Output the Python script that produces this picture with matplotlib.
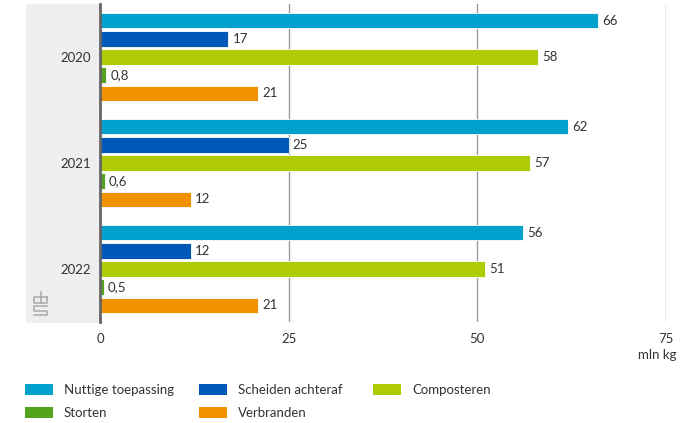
import numpy as np
import matplotlib.pyplot as plt
from matplotlib.patches import FancyBboxPatch, Rectangle
from matplotlib.lines import Line2D

plt.rcParams['font.family'] = ['Lato', 'DejaVu Sans']

years = ['2020', '2021', '2022']
series = ['Nuttige toepassing', 'Scheiden achteraf', 'Composteren', 'Storten', 'Verbranden']
colors = ['#00a1cd', '#0058b8', '#afcb05', '#53a31d', '#f39200']

nuttige = [66, 62, 56]
scheiden = [17, 25, 12]
composteren = [58, 57, 51]
storten = [0.8, 0.6, 0.5]
verbranden = [21, 12, 21]
values = [nuttige, scheiden, composteren, storten, verbranden]

xticks = [0, 25, 50, 75]
unit = 'mln kg'

W, H = 696, 423
fig = plt.figure(figsize=(W / 100, H / 100), dpi=100)
ax = fig.add_axes([100 / W, (H - 322) / H, (666 - 100) / W, (322 - 4) / H])

# grey side panel with year labels (inches -> isotropic corners)
panel = FancyBboxPatch((0.26, (H - 323) / 100), 0.80, (323 - 4) / 100,
                       boxstyle='round,pad=0,rounding_size=0.04',
                       transform=fig.dpi_scale_trans, facecolor='#eeeeee',
                       edgecolor='none', zorder=-1)
fig.patches.append(panel)

def fmt(v):
    s = f'{v:g}'
    return s.replace('.', ',')

y = np.arange(len(years))
step = 0.17
h = 0.142
for i, (name, vals, c) in enumerate(zip(series, values, colors)):
    bars = ax.barh(y + (i - 2) * step, vals, height=h, color=c,
                   edgecolor='white', linewidth=0.6, zorder=3)
    ax.bar_label(bars, labels=[fmt(v) for v in vals], padding=3,
                 fontsize=9.5, color='#333333')

ax.set_xlim(0, 75)
ax.set_ylim(2.5, -0.5)
ax.set_yticks(y)
ax.set_yticklabels(years)
ax.set_xticks(xticks)
ax.tick_params(length=0, labelsize=9.5, labelcolor='#333333')
ax.tick_params(axis='x', pad=8)
ax.tick_params(axis='y', pad=6.5)
for s in ['top', 'right', 'bottom']:
    ax.spines[s].set_visible(False)
ax.spines['left'].set_color('#666666')
ax.spines['left'].set_linewidth(2)
ax.spines['left'].set_zorder(5)
ax.grid(axis='x', color='#999999', linewidth=1, zorder=1)
ax.grid(axis='y', visible=False)
ax.set_axisbelow(True)

fig.text(677 / W, 1 - 355 / H, unit, ha='right', va='center',
         fontsize=9.5, color='#333333')

# rough CBS logo in the panel corner
lc = '#aaaaaa'
logo = [
    [(40.5, 292), (40.5, 297)],
    [(47, 297), (34, 297), (34, 303), (47, 303), (47, 297)],
    [(40.5, 297), (40.5, 303)],
    [(47, 306), (34, 306), (34, 310.5), (47, 310.5), (47, 314.5), (34, 314.5)],
]
for pts in logo:
    xs = [p[0] / 100 for p in pts]
    ys = [(H - p[1]) / 100 for p in pts]
    fig.add_artist(Line2D(xs, ys, transform=fig.dpi_scale_trans,
                          color=lc, linewidth=1.1))

# legend, laid out row by row
cols = [25, 199, 373]
rows = [389.5, 412.5]
for k, (name, c) in enumerate(zip(series, colors)):
    cx = cols[k % 3]
    cy = rows[k // 3]
    fig.patches.append(Rectangle((cx / W, 1 - (cy + 5.5) / H), 28 / W, 11 / H,
                                 transform=fig.transFigure, facecolor=c,
                                 edgecolor='none'))
    fig.text((cx + 39) / W, 1 - cy / H, name, ha='left', va='center',
             fontsize=9.5, color='#333333')

fig.savefig('out.png', dpi=100)
